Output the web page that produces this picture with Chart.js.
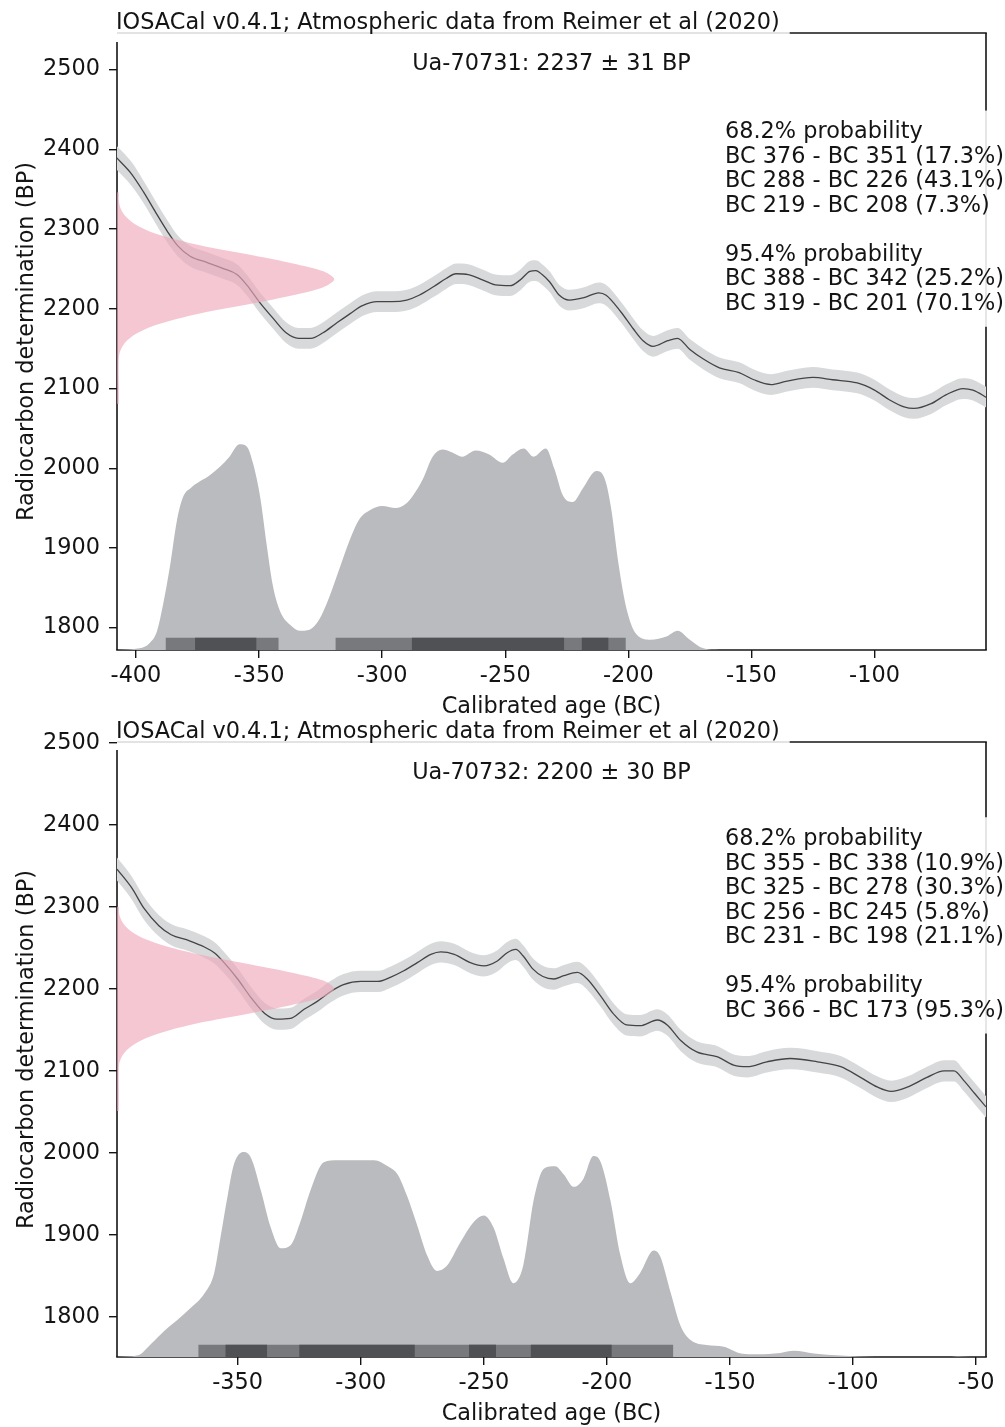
<!DOCTYPE html>
<html>
<head>
<meta charset="utf-8">
<title>IOSACal calibration plots</title>
<script src="https://cdn.jsdelivr.net/npm/chart.js@4.4.1/dist/chart.umd.min.js"></script>
<style>
    body { margin: 0; background: #fff; }
    #charts { position: relative; width: 1005px; height: 1427px; overflow: hidden; }
    #charts canvas { position: absolute; left: 0; }
</style>
</head>
<body>
<div id="charts">
    <canvas id="chartTop" width="1005" height="724" style="top: 0"></canvas>
    <canvas id="chartBottom" width="1005" height="713" style="top: 714px"></canvas>
</div>
<script>
// tick labels
const yTicks = [1800, 1900, 2000, 2100, 2200, 2300, 2400, 2500]
const xTicksTop = [-400, -350, -300, -250, -200, -150, -100]
const xTicksBottom = [-350, -300, -250, -200, -150, -100, -50]

// Ua-70731 : calibration curve (year BC, BP, 1 sigma)
const calYearsTop = [-408, -402, -397, -392, -387, -383, -378, -371, -365, -359, -355, -350, -344, -339, -334, -329, -324, -319, -313, -308, -302, -296, -290, -285, -279, -274, -270, -265, -259, -254, -248, -244, -240, -237.5, -235, -232, -228, -224, -218, -212, -209, -203, -198, -194, -190, -184, -180, -175, -169.5, -163, -155, -149, -142, -136, -125, -117, -107, -100, -94, -88, -84, -77, -71, -64, -60, -54]
const calBPTop = [2390, 2370, 2347, 2321, 2296, 2279, 2266, 2258, 2251, 2243, 2230, 2209, 2187, 2170, 2163, 2163, 2170, 2181, 2194, 2204, 2209, 2209, 2211, 2217, 2228, 2238, 2244, 2243, 2236, 2230, 2229, 2236, 2247, 2248, 2243, 2234, 2217, 2211, 2214, 2220, 2217, 2196, 2175, 2160, 2153, 2160, 2163, 2149, 2137, 2126, 2120, 2111, 2105, 2109, 2114, 2111, 2107, 2098, 2086, 2077, 2075, 2081, 2092, 2100, 2098, 2088]
const calErrTop = [15, 15, 14, 14, 14, 13, 13, 13, 13, 13, 13, 13, 13, 13, 13, 13, 13, 13, 13, 13, 13, 13, 13, 13, 13, 13, 13, 13, 13, 13, 13, 13, 13, 13, 13, 13, 13, 13, 13, 13, 13, 13, 13, 13, 13, 13, 13, 13, 13, 13, 13, 13, 13, 13, 13, 13, 13, 13, 13, 13, 13, 13, 13, 13, 13, 13]
// calibrated probability, relative to its peak
const probYearsTop = [-408, -398.5, -394.5, -391.5, -389, -386, -383.5, -381, -377.5, -374, -370, -366, -362, -358, -355, -352.5, -349.5, -347, -344.5, -341.5, -337.5, -333.5, -329.5, -325.5, -321.5, -317.5, -313, -309, -305, -300, -294.5, -290.5, -287.5, -283.5, -279.5, -275.5, -271.5, -267.5, -262, -256.5, -251, -247, -242.5, -238.5, -233.5, -230, -226.5, -222.5, -218.5, -213, -209.5, -207, -204, -200.5, -196.5, -191, -184.5, -180, -175, -169.5, -163, -55]
const probTop = [0, 0.008, 0.033, 0.09, 0.22, 0.42, 0.62, 0.74, 0.79, 0.82, 0.85, 0.89, 0.94, 1.0, 0.99, 0.91, 0.74, 0.52, 0.32, 0.19, 0.124, 0.094, 0.099, 0.149, 0.256, 0.39, 0.54, 0.64, 0.68, 0.70, 0.69, 0.71, 0.75, 0.83, 0.94, 0.975, 0.96, 0.94, 0.97, 0.95, 0.91, 0.95, 0.98, 0.94, 0.98, 0.88, 0.75, 0.72, 0.785, 0.87, 0.83, 0.69, 0.42, 0.19, 0.074, 0.05, 0.066, 0.094, 0.05, 0.008, 0, 0]
// radiocarbon determination (BP level, width relative to peak)
const dateLevelsTop = [2346, 2337, 2327, 2317, 2307, 2297, 2287, 2277, 2267, 2257, 2247, 2237, 2227, 2217, 2207, 2197, 2187, 2177, 2167, 2157, 2147, 2137, 2081]
const dateWidthTop = [0.008, 0.008, 0.015, 0.036, 0.078, 0.15, 0.27, 0.43, 0.63, 0.81, 0.95, 1.0, 0.95, 0.81, 0.63, 0.43, 0.27, 0.15, 0.078, 0.036, 0.015, 0.008, 0.008]
// highest density ranges
const hpd68Top = [[-376, -351], [-288, -226], [-219, -208]]
const pct68Top = [17.3, 43.1, 7.3]
const hpd95Top = [[-388, -342], [-319, -201]]
const pct95Top = [25.2, 70.1]

// Ua-70732
const calYearsBottom = [-399, -393, -388, -382, -377, -370, -363.5, -359.5, -355.5, -350, -344.5, -339, -334, -328.5, -323, -317.5, -312, -307, -300, -293, -288, -282.5, -277, -271.5, -267.5, -262, -255.5, -250, -244.5, -240.5, -237, -234, -230, -226, -221.5, -217.5, -212, -208, -202.5, -197.5, -192, -186.5, -179.5, -175.5, -170, -163.5, -155, -148.5, -143, -135, -125.5, -114.5, -105, -97, -90, -84.5, -78, -70, -63, -59, -55, -50.5, -46]
const calBPBottom = [2346, 2323, 2298, 2277, 2266, 2259, 2251, 2244, 2232, 2212, 2189, 2170, 2163, 2164, 2175, 2185, 2197, 2205, 2209, 2209, 2214, 2222, 2232, 2242, 2245, 2242, 2232, 2228, 2234, 2244, 2248, 2240, 2224, 2215, 2212, 2216, 2220, 2212, 2191, 2170, 2156, 2155, 2162, 2156, 2137, 2123, 2117, 2107, 2105, 2111, 2115, 2111, 2105, 2092, 2080, 2075, 2080, 2092, 2100, 2100, 2088, 2072, 2056]
const calErrBottom = [14, 14, 14, 13, 13, 13, 13, 13, 13, 13, 13, 13, 13, 13, 13, 13, 13, 13, 13, 13, 13, 13, 13, 13, 13, 13, 13, 13, 13, 13, 13, 13, 13, 13, 13, 13, 13, 13, 13, 13, 13, 13, 13, 13, 13, 13, 13, 13, 13, 13, 13, 13, 13, 13, 13, 13, 13, 13, 13, 13, 13, 13, 13]
const probYearsBottom = [-399, -390.5, -385, -379.5, -374.5, -369, -363.5, -359.5, -357, -354, -351.5, -347.5, -344.5, -340.5, -336.5, -332.5, -328.5, -324.5, -320.5, -315, -309.5, -301.5, -294.5, -289, -285, -281, -277, -273, -269, -265, -259.5, -254, -250, -246, -242, -238, -234, -229.5, -225.5, -221, -217.5, -213.5, -209.5, -205.5, -202.5, -198.5, -194.5, -190.5, -186.5, -181, -178.5, -174, -170, -166, -159.5, -152.5, -145.5, -139, -129.5, -124, -116, -105, -91, -60, -57.5, -52, -46]
const probBottom = [0, 0.008, 0.066, 0.13, 0.18, 0.24, 0.31, 0.41, 0.58, 0.79, 0.94, 1.0, 0.97, 0.81, 0.63, 0.53, 0.545, 0.66, 0.81, 0.95, 0.96, 0.96, 0.96, 0.93, 0.89, 0.78, 0.64, 0.495, 0.42, 0.445, 0.56, 0.66, 0.69, 0.63, 0.48, 0.36, 0.445, 0.78, 0.92, 0.93, 0.89, 0.83, 0.87, 0.98, 0.95, 0.76, 0.495, 0.36, 0.41, 0.52, 0.495, 0.31, 0.15, 0.083, 0.058, 0.05, 0.017, 0.013, 0.02, 0.03, 0.017, 0.007, 0, 0, 0.003, 0, 0]
const dateLevelsBottom = [2300, 2290, 2280, 2270, 2260, 2250, 2240, 2230, 2220, 2210, 2200, 2190, 2180, 2170, 2160, 2150, 2140, 2130, 2120, 2110, 2100, 2051]
const dateWidthBottom = [0.008, 0.011, 0.028, 0.066, 0.135, 0.25, 0.41, 0.61, 0.80, 0.95, 1.0, 0.95, 0.80, 0.61, 0.41, 0.25, 0.135, 0.066, 0.028, 0.011, 0.008, 0.008]
const hpd68Bottom = [[-355, -338], [-325, -278], [-256, -245], [-231, -198]]
const pct68Bottom = [10.9, 30.3, 5.8, 21.1]
const hpd95Bottom = [[-366, -173]]
const pct95Bottom = [95.3]

const TITLE = 'IOSACal v0.4.1; Atmospheric data from Reimer et al (2020)'
const X_TITLE = 'Calibrated age (BC)'
const Y_TITLE = 'Radiocarbon determination (BP)'

const INK = '#141414'
const FONT = '22.4px "DejaVu Sans"'
const LINE_GAP = 24.5
const BAND = '#d8d9db'
const CURVE = '#444444'
const PROB = '#babbbe'
const HPD95 = '#78797d'
const HPD68 = '#505155'
const PINK = 'rgba(238, 168, 186, 0.64)'
const HPD_HEIGHT = 0.06

Chart.defaults.font.family = 'DejaVu Sans'
Chart.defaults.font.size = 22.4
Chart.defaults.color = INK

// text block on the right
function infoLines(hpd68, pct68, hpd95, pct95) {
    const fmt = (r, p) => `BC ${-r[0]} - BC ${-r[1]} (${p}%)`
    return ['68.2% probability']
        .concat(hpd68.map((r, i) => fmt(r, pct68[i])))
        .concat(['', '95.4% probability'])
        .concat(hpd95.map((r, i) => fmt(r, pct95[i])))
}

function stroke(ctx, color, x1, y1, x2, y2) {
    ctx.strokeStyle = color
    ctx.beginPath()
    ctx.moveTo(x1, y1)
    ctx.lineTo(x2, y2)
    ctx.stroke()
}

// frame with the gaps left by the title and the text box, plus all texts
function decorPlugin(d) {
    return {
        id: 'decor',
        beforeDatasetsDraw(chart) {
            const ctx = chart.ctx
            const a = chart.chartArea
            ctx.save()
            ctx.font = FONT
            const titleEnd = d.titleX + ctx.measureText(TITLE).width + 10
            const boxTop = a.top + d.infoY - 27.5
            const boxBottom = a.top + d.infoY + (d.info.length - 1) * LINE_GAP + 17
            ctx.lineWidth = 1.6
            stroke(ctx, '#dadada', a.left, a.top, titleEnd, a.top)
            stroke(ctx, INK, titleEnd, a.top, a.right + 0.8, a.top)
            stroke(ctx, INK, a.right, a.top, a.right, boxTop)
            stroke(ctx, '#e0e0e0', a.right, boxTop, a.right, boxBottom)
            stroke(ctx, INK, a.right, boxBottom, a.right, a.bottom)
            stroke(ctx, INK, a.left, a.top + d.leftGap, a.left, a.bottom)
            stroke(ctx, INK, a.left - 0.8, a.bottom, a.right + 0.8, a.bottom)
            ctx.restore()
        },
        afterDraw(chart) {
            const ctx = chart.ctx
            const a = chart.chartArea
            const midX = (a.left + a.right) / 2
            ctx.save()
            ctx.font = FONT
            ctx.fillStyle = INK
            ctx.textBaseline = 'alphabetic'
            ctx.textAlign = 'left'
            ctx.fillText(TITLE, d.titleX, a.top - 4.5)
            d.info.forEach((t, i) => ctx.fillText(t, d.infoX, a.top + d.infoY + i * LINE_GAP))
            ctx.textAlign = 'center'
            ctx.fillText(d.label, midX, a.top + d.labelY)
            ctx.fillText(X_TITLE, midX, a.bottom + 63)
            ctx.translate(33, (a.top + a.bottom) / 2)
            ctx.rotate(-Math.PI / 2)
            ctx.fillText(Y_TITLE, 0, 0)
            ctx.restore()
        }
    }
}

function hpdBar(range, color, order) {
    return {
        data: [{ x: range[0], y: HPD_HEIGHT }, { x: range[1], y: HPD_HEIGHT }],
        yAxisID: 'yp', fill: 'start', backgroundColor: color,
        borderWidth: 0, borderColor: 'rgba(0,0,0,0)', pointRadius: 0, tension: 0, order: order
    }
}

function makeChart(canvasId, d) {
    const mid = d.calYears.map((x, i) => ({ x, y: d.calBP[i] }))
    const hi = d.calYears.map((x, i) => ({ x, y: d.calBP[i] + d.calErr[i] }))
    const lo = d.calYears.map((x, i) => ({ x, y: d.calBP[i] - d.calErr[i] }))
    const prob = d.probYears.map((x, i) => ({ x, y: d.prob[i] }))
    const last = d.dateLevels.length - 1
    const pink = [{ x: 0, y: d.dateLevels[0] }]
        .concat(d.dateLevels.map((y, i) => ({ x: d.dateWidth[i], y })))
        .concat([{ x: 0, y: d.dateLevels[last] }])

    const plain = { pointRadius: 0, borderWidth: 0, borderColor: 'rgba(0,0,0,0)', tension: 0 }
    const datasets = [
        Object.assign({}, plain, { data: hi, fill: false, order: 10, cubicInterpolationMode: 'monotone' }),
        Object.assign({}, plain, { data: lo, fill: '-1', backgroundColor: BAND, order: 9, cubicInterpolationMode: 'monotone' }),
        { data: mid, borderColor: CURVE, borderWidth: 1.3, pointRadius: 0, fill: false, order: 8, cubicInterpolationMode: 'monotone' },
        Object.assign({}, plain, { data: prob, yAxisID: 'yp', fill: 'start', backgroundColor: PROB, order: 7, cubicInterpolationMode: 'monotone' })
    ]
    d.hpd95.forEach(r => datasets.push(hpdBar(r, HPD95, 6)))
    d.hpd68.forEach(r => datasets.push(hpdBar(r, HPD68, 5)))
    datasets.push(Object.assign({}, plain, { data: pink, xAxisID: 'xp', fill: 'shape', backgroundColor: PINK, order: 1, tension: 0.3 }))

    const tickGrid = { drawOnChartArea: false, drawTicks: true, tickLength: 8, tickWidth: 1.4, tickColor: INK, lineWidth: 1.4, color: INK }
    const tickText = { color: INK, font: { size: 22.4 }, autoSkip: false, maxRotation: 0, minRotation: 0, callback: v => String(v) }

    return new Chart(document.getElementById(canvasId), {
        type: 'line',
        data: { datasets: datasets },
        options: {
            responsive: false,
            animation: false,
            devicePixelRatio: 1,
            events: [],
            layout: { padding: { top: d.areaTop, right: 19, bottom: 0, left: 0 } },
            plugins: { legend: { display: false }, tooltip: { enabled: false } },
            scales: {
                x: {
                    type: 'linear', bounds: 'data', min: d.xMin, max: d.xMax,
                    afterBuildTicks: s => { s.ticks = d.xTicks.map(value => ({ value })) },
                    afterFit: s => { s.height = d.xAxisHeight },
                    grid: tickGrid, border: { display: false },
                    ticks: Object.assign({ padding: 5 }, tickText)
                },
                y: {
                    type: 'linear', bounds: 'data', min: d.yMin, max: d.yMax,
                    afterBuildTicks: s => { s.ticks = yTicks.map(value => ({ value })) },
                    afterFit: s => { s.width = 117 },
                    grid: tickGrid, border: { display: false },
                    ticks: Object.assign({ padding: 9 }, tickText)
                },
                xp: { type: 'linear', display: false, bounds: 'data', min: 0, max: 4 },
                yp: { type: 'linear', display: false, bounds: 'data', min: 0, max: 3 }
            }
        },
        plugins: [decorPlugin(d)]
    })
}

makeChart('chartTop', {
    calYears: calYearsTop, calBP: calBPTop, calErr: calErrTop,
    probYears: probYearsTop, prob: probTop,
    dateLevels: dateLevelsTop, dateWidth: dateWidthTop,
    hpd68: hpd68Top, hpd95: hpd95Top,
    info: infoLines(hpd68Top, pct68Top, hpd95Top, pct95Top),
    label: 'Ua-70731: 2237 ± 31 BP',
    xTicks: xTicksTop, xMin: -407.7, xMax: -54.7, yMin: 1772, yMax: 2546,
    areaTop: 33, xAxisHeight: 74, leftGap: 9,
    titleX: 116, infoX: 725, infoY: 105.3, labelY: 37
})

makeChart('chartBottom', {
    calYears: calYearsBottom, calBP: calBPBottom, calErr: calErrBottom,
    probYears: probYearsBottom, prob: probBottom,
    dateLevels: dateLevelsBottom, dateWidth: dateWidthBottom,
    hpd68: hpd68Bottom, hpd95: hpd95Bottom,
    info: infoLines(hpd68Bottom, pct68Bottom, hpd95Bottom, pct95Bottom),
    label: 'Ua-70732: 2200 ± 30 BP',
    xTicks: xTicksBottom, xMin: -399, xMax: -46, yMin: 1751, yMax: 2501,
    areaTop: 28, xAxisHeight: 70, leftGap: 8,
    titleX: 116, infoX: 725, infoY: 103, labelY: 36.5
})
</script>
</body>
</html>
